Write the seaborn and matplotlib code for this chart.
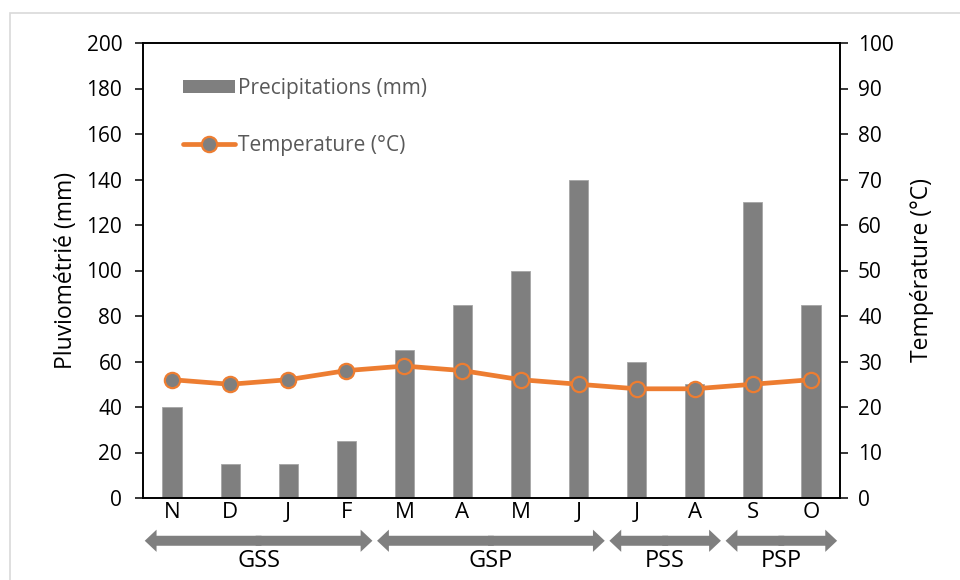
import matplotlib
matplotlib.use("Agg")
import matplotlib.pyplot as plt
import matplotlib.patches as mpatches
from matplotlib.lines import Line2D
import seaborn as sns
import pandas as pd
import numpy as np

# Monthly climate data (November to October)
months = ["N", "D", "J", "F", "M", "A", "M", "J", "J", "A", "S", "O"]
precip_mm = [40, 15, 15, 25, 65, 85, 100, 140, 60, 50, 130, 85]
temp_c = [26, 25, 26, 28, 29, 28, 26, 25, 24, 24, 25, 26]

# Seasons: (label, first month index, last month index)
season_labels = ["GSS", "GSP", "PSS", "PSP"]
season_start = [0, 4, 8, 10]
season_end = [3, 7, 9, 11]

sns.set_theme(style="ticks")
plt.rcParams["font.family"] = ["Open Sans", "DejaVu Sans"]

BAR_GRAY = "#7f7f7f"
ORANGE = "#ed7d31"
TEXT_GRAY = "#595959"

df = pd.DataFrame({"pos": np.arange(len(months)), "month": months,
                   "precip": precip_mm, "temp": temp_c})

fig = plt.figure(figsize=(9.6, 5.8), dpi=100)
ax = fig.add_axes([143 / 960, 82 / 580, 697 / 960, 455 / 580])

# Light frame around the chart area
frame = mpatches.Rectangle((10 / 960, -0.05), 1.2, 1 - 13 / 580 + 0.05,
                           transform=fig.transFigure, fill=False,
                           edgecolor="#d9d9d9", lw=1.2, zorder=0)
fig.patches.append(frame)

# Precipitation bars
sns.barplot(data=df, x="pos", y="precip", color=BAR_GRAY, width=0.33,
            saturation=1, edgecolor="#a6a6a6", linewidth=0.6, ax=ax, zorder=2)
ax.set_xlim(-0.5, len(months) - 0.5)
ax.set_ylim(0, 200)
ax.set_yticks(np.arange(0, 201, 20))
ax.set_xticks(df["pos"])
ax.set_xticklabels(months, fontsize=16, color="black")
ax.tick_params(axis="x", length=0, pad=3)
ax.tick_params(axis="y", length=6, width=1.1, color="black", labelsize=15,
               labelcolor="black", pad=9)
ax.set_xlabel("")
ax.set_ylabel("Pluviométrié (mm)", fontsize=16.5, color="black", labelpad=6)

# Temperature line on a secondary axis
ax2 = ax.twinx()
sns.lineplot(data=df, x="pos", y="temp", color=ORANGE, lw=3.4, marker="o",
             markersize=11, markerfacecolor=BAR_GRAY, markeredgecolor=ORANGE,
             markeredgewidth=1.6, sort=False, ax=ax2, zorder=3)
ax2.set_ylim(0, 100)
ax2.set_yticks(np.arange(0, 101, 10))
ax2.tick_params(axis="y", length=6, width=1.1, color="black", labelsize=15,
                labelcolor="black", pad=7)
ax2.set_ylabel("Température (°C)", fontsize=16.5, color="black", labelpad=12)
ax2.set_xlabel("")
ax2.set_xlim(-0.5, len(months) - 0.5)

for a in (ax, ax2):
    for side in ("left", "right", "top", "bottom"):
        a.spines[side].set_visible(True)
        a.spines[side].set_color("black")
        a.spines[side].set_linewidth(1.2)

# Legend
handles = [
    mpatches.Patch(facecolor=BAR_GRAY, edgecolor="none"),
    Line2D([0], [0], color=ORANGE, lw=3.4, marker="o", markersize=11,
           markerfacecolor=BAR_GRAY, markeredgecolor=ORANGE,
           markeredgewidth=1.6),
]
leg = ax2.legend(handles, ["Precipitations (mm)", "Temperature (°C)"],
                 loc="upper left", bbox_to_anchor=(0.03, 0.965), frameon=False,
                 fontsize=15, handlelength=2.5, handleheight=0.55,
                 labelspacing=1.75, handletextpad=0.15)
for t in leg.get_texts():
    t.set_color(TEXT_GRAY)

# Season arrows below the month labels
arrow_y = -0.094
label_y = -0.138
for lab, s, e in zip(season_labels, season_start, season_end):
    x0 = s - 0.47
    x1 = e + 0.45
    mid = (x0 + x1) / 2
    style = "simple,head_length=0.85,head_width=1.6,tail_width=0.72"
    for tip, tail in ((x0, mid + 0.05), (x1, mid - 0.05)):
        ax.annotate("", xy=(tip, arrow_y), xytext=(tail, arrow_y),
                    xycoords=("data", "axes fraction"),
                    textcoords=("data", "axes fraction"),
                    annotation_clip=False,
                    arrowprops=dict(arrowstyle=style, color=BAR_GRAY, lw=0,
                                    shrinkA=0, shrinkB=0, mutation_scale=10))
    ax.text(mid, label_y, lab, transform=ax.get_xaxis_transform(),
            ha="center", va="center", fontsize=17, color="black",
            clip_on=False)

fig.savefig("out.png", dpi=100)
